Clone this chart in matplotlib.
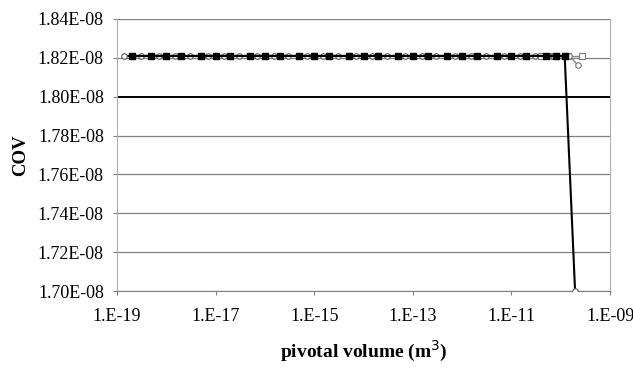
import matplotlib
matplotlib.use('Agg')
import matplotlib.pyplot as plt
from matplotlib.ticker import FixedLocator, FuncFormatter

plt.rcParams['font.family'] = ['Liberation Serif', 'DejaVu Serif']

# filled squares, black line
vol_a = [2e-19, 5e-19, 1e-18, 2e-18, 5e-18, 1e-17, 2e-17, 5e-17, 1e-16, 2e-16, 5e-16,
         1e-15, 2e-15, 5e-15, 1e-14, 2e-14, 5e-14, 1e-13, 2e-13, 5e-13, 1e-12, 2e-12,
         5e-12, 1e-11, 2e-11, 5e-11, 8e-11, 1.2e-10]
cov_a = [1.821e-08] * len(vol_a)

# open circles, black line, drops at the end
vol_b = [1.4e-19, 3e-19, 7e-19, 1.5e-18, 3e-18, 7e-18, 1.5e-17, 3e-17, 7e-17, 1.5e-16,
         3e-16, 7e-16, 1.5e-15, 3e-15, 7e-15, 1.5e-14, 3e-14, 7e-14, 1.5e-13, 3e-13,
         7e-13, 1.5e-12, 3e-12, 7e-12, 1.5e-11, 3e-11, 7e-11, 1.2e-10, 1.95e-10]
cov_b = [1.821e-08] * 28 + [1.70e-08]

# open squares, grey line
vol_c = [4e-11, 8e-11, 1.4e-10, 2.7e-10]
cov_c = [1.821e-08, 1.821e-08, 1.821e-08, 1.821e-08]

# open circles, grey line, small dip at the end
vol_d = [6e-11, 1.5e-10, 2.2e-10]
cov_d = [1.821e-08, 1.821e-08, 1.8164e-08]

y_ticks = [1.70e-08, 1.72e-08, 1.74e-08, 1.76e-08, 1.78e-08, 1.80e-08, 1.82e-08, 1.84e-08]
x_ticks = [1e-19, 1e-17, 1e-15, 1e-13, 1e-11, 1e-09]
x_labels = ['1.E-19', '1.E-17', '1.E-15', '1.E-13', '1.E-11', '1.E-09']

fig = plt.figure(figsize=(6.33, 3.68), dpi=100)
ax = fig.add_axes([0.1848, 0.2092, 0.779, 0.7392])

for y in y_ticks:
    if y == 1.80e-08:
        ax.axhline(y, color='black', lw=1.4, zorder=1)
    else:
        ax.axhline(y, color='#808080', lw=0.9, zorder=1)

ax.plot(vol_c, cov_c, '-', color='#888888', lw=1, marker='s', ms=4.5,
        mfc='white', mec='#777777', mew=0.8, zorder=2)
ax.plot(vol_d, cov_d, '-', color='#888888', lw=1, marker='o', ms=4,
        mfc='white', mec='#777777', mew=0.8, zorder=2)
ax.plot(vol_b, cov_b, '-', color='black', lw=1.5, marker='o', ms=4,
        mfc='white', mec='#555555', mew=0.8, zorder=3)
ax.plot(vol_a, cov_a, '-', color='black', lw=1.5, marker='s', ms=5,
        mfc='black', mec='black', zorder=4)

ax.set_xscale('log')
ax.set_xlim(1e-19, 1e-09)
ax.set_ylim(1.70e-08, 1.84e-08)

ax.xaxis.set_major_locator(FixedLocator(x_ticks))
ax.xaxis.set_minor_locator(FixedLocator([]))
ax.set_xticklabels(x_labels)
ax.set_yticks(y_ticks)
ax.yaxis.set_major_formatter(FuncFormatter(lambda v, p: '%.2fE-08' % (v / 1e-08)))
ax.yaxis.get_offset_text().set_visible(False)

ax.tick_params(axis='both', labelsize=13, direction='out', color='#808080', length=3)
ax.tick_params(axis='x', pad=9)
ax.tick_params(axis='y', pad=6.5)

for side in ['left', 'right']:
    ax.spines[side].set_color('#b0b0b0')
ax.spines['top'].set_visible(False)
ax.spines['bottom'].set_color('#808080')

ax.set_xlabel('pivotal volume (m$^3$)', fontsize=14, fontweight='bold', labelpad=10)
ax.set_ylabel('COV', fontsize=13.5, fontweight='bold', labelpad=6)

fig.savefig('out.png', dpi=100)
